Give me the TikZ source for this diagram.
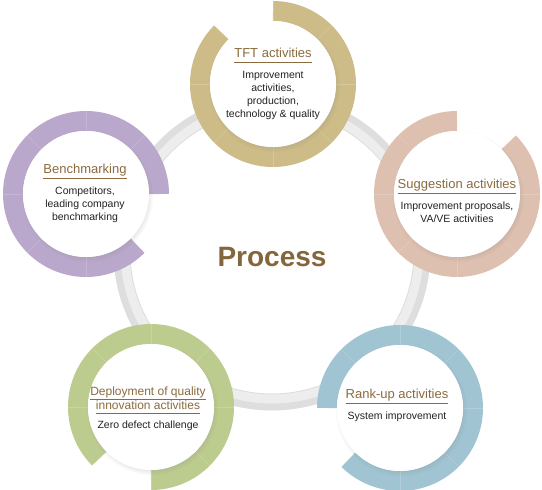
\documentclass[tikz,border=0pt]{standalone}
\usepackage{fontspec}
\setmainfont{Liberation Sans}
\usetikzlibrary{positioning,shadows}

\definecolor{tftcol}{HTML}{CDBC87}
\definecolor{sugcol}{HTML}{DEC0B0}
\definecolor{bencol}{HTML}{B9A8CB}
\definecolor{depcol}{HTML}{BCCC8F}
\definecolor{rnkcol}{HTML}{A0C4D2}
\definecolor{titlebrown}{HTML}{8B6B3F}
\definecolor{bodygray}{HTML}{222222}

\newcommand\headline[1]{\underline{#1\vphantom{gy}}}

\begin{document}
\begin{tikzpicture}[
        x = 1pt, y = 1pt,
        ring/.style = {line width = 20pt},
        seam/.style = {white, opacity = .18, line width = .6pt},
        disc/.style = {
          circle, fill = white, minimum size = 126pt, inner sep = 0pt,
          circular drop shadow = {shadow xshift = 1pt, shadow yshift = -2pt,
            shadow scale = 1.05, opacity = .3},
        },
        title/.style = {inner sep = 0pt, text = titlebrown, align = center,
          font = \fontsize{13}{15}\selectfont},
        body/.style = {inner sep = 0pt, text = bodygray, align = center,
          font = \fontsize{10.5}{13}\selectfont},
      ]

      \useasboundingbox (0,0) rectangle (542,490);

      \coordinate (hub) at (272,238);
      \coordinate (tft) at (273,406);
      \coordinate (sug) at (457,296);
      \coordinate (ben) at (86,296);
      \coordinate (dep) at (151,83);
      \coordinate (rnk) at (400,82);

      % big grey loop behind the stations
      \draw[line width = 17pt, black!13] (hub) circle[radius = 150];
      \draw[line width = 9pt, black!7] (hub) circle[radius = 147];

      % coloured rings, each with its 45 degree gap
      \draw[ring, tftcol] (tft) ++(135:73) arc[start angle = 135, end angle = 450, radius = 73];
      \draw[ring, sugcol] (sug) ++(90:73) arc[start angle = 90, end angle = 405, radius = 73];
      \draw[ring, bencol] (ben) ++(0:73) arc[start angle = 0, end angle = 315, radius = 73];
      \draw[ring, depcol] (dep) ++(270:73) arc[start angle = 270, end angle = 585, radius = 73];
      \draw[ring, rnkcol] (rnk) ++(225:73) arc[start angle = 225, end angle = 540, radius = 73];

      \foreach \c in {tft,sug,ben,dep,rnk}
        \foreach \a in {0,45,...,315}
          \draw[seam] (\c) ++(\a:63) to ++(\a:20);

      \node[disc] (tftD) at (tft) {};
      \node[disc] (sugD) at (sug) {};
      \node[disc] (benD) at (ben) {};
      \node[disc] (depD) at (dep) {};
      \node[disc] (rnkD) at (rnk) {};

      \node[font = \fontsize{28}{30}\selectfont\bfseries, text = titlebrown!95!black]
        (process) at (272,233) {Process};

      \node[title, anchor = base] (tftT) at (273,432) {\headline{TFT activities}};
      \node[body, below = 8pt of tftT] (tftB)
        {Improvement\\activities,\\production,\\technology \& quality};

      \node[title, anchor = base] (sugT) at (457,301) {\headline{Suggestion activities}};
      \node[body, below = 8pt of sugT] (sugB) {Improvement proposals,\\VA/VE activities};

      \node[title, anchor = base] (benT) at (85,316) {\headline{Benchmarking}};
      \node[body, below = 8pt of benT] (benB)
        {Competitors,\\leading company\\benchmarking};

      \node[title, font = \fontsize{12}{14}\selectfont] (depT) at (148,90)
        {\headline{Deployment of quality}\\\headline{innovation activities}};
      \node[body, below = 7pt of depT] (depB) {Zero defect challenge};

      \node[title, anchor = base] (rnkT) at (397,91) {\headline{Rank-up activities}};
      \node[body, below = 8pt of rnkT] (rnkB) {System improvement};
    \end{tikzpicture}
\end{document}
